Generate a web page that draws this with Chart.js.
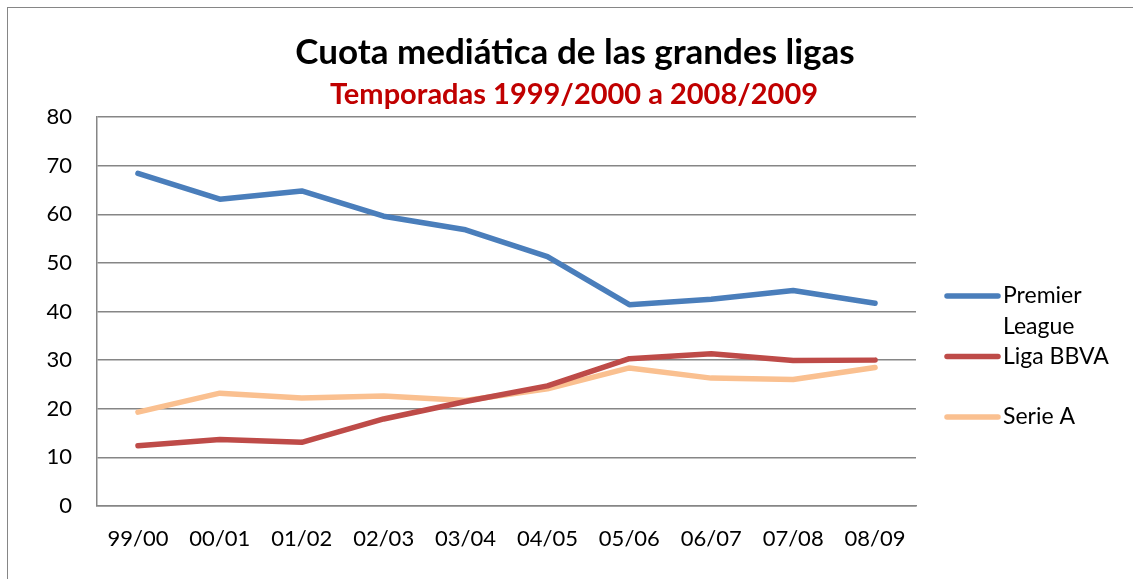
<!DOCTYPE html>
<html>
<head>
<meta charset="utf-8">
<script src="https://cdn.jsdelivr.net/npm/chart.js@4"></script>
<style>
    body { margin: 0; background: #fff; }
    #wrap { position: relative; width: 1133px; height: 579px; }
    #frame { position: absolute; left: 7px; top: 7px; width: 1140px; height: 600px; border: 1.5px solid #868686; box-sizing: border-box; }
    canvas { position: absolute; left: 0; top: 0; }
</style>
</head>
<body>
<div id="wrap">
    <div id="frame"></div>
    <canvas id="chart" width="1133" height="579"></canvas>
</div>
<script>
var seasons = ["99/00", "00/01", "01/02", "02/03", "03/04", "04/05", "05/06", "06/07", "07/08", "08/09"];
var premierLeague = [68.4, 63.1, 64.8, 59.6, 56.8, 51.3, 41.4, 42.5, 44.3, 41.7];
var ligaBBVA = [12.4, 13.7, 13.1, 17.9, 21.5, 24.7, 30.3, 31.3, 29.9, 30.0];
var serieA = [19.3, 23.2, 22.2, 22.6, 21.7, 24.1, 28.4, 26.3, 26.0, 28.5];
var seriesNames = ["Premier League", "Liga BBVA", "Serie A"];
var seriesColors = ["#4A7EBB", "#BE4B48", "#FAC090"];
var titleText = "Cuota mediática de las grandes ligas";
var subtitleText = "Temporadas 1999/2000 a 2008/2009";

var fontName = "Lato, 'Open Sans', sans-serif";

// titles and the right hand legend, drawn by hand
var decorations = {
    id: "decorations",
    afterDraw: function(chart) {
        var ctx = chart.ctx;
        ctx.save();
        ctx.textAlign = "center";
        ctx.textBaseline = "middle";
        ctx.fillStyle = "#000";
        ctx.font = "bold 35px " + fontName;
        ctx.fillText(titleText, 575, 53);
        ctx.fillStyle = "#C00000";
        ctx.font = "bold 29px " + fontName;
        ctx.fillText(subtitleText, 574, 95);

        ctx.textAlign = "left";
        ctx.font = "23px " + fontName;
        chart.data.datasets.forEach(function(ds, i) {
            var y = 296 + i * 60.5;
            ctx.strokeStyle = ds.borderColor;
            ctx.lineWidth = 5.5;
            ctx.lineCap = "round";
            ctx.beginPath();
            ctx.moveTo(947, y);
            ctx.lineTo(998, y);
            ctx.stroke();
            ctx.fillStyle = "#000";
            var words = ds.label.split(" ");
            var line = "";
            var lines = [];
            words.forEach(function(w) {
                var test = line ? line + " " + w : w;
                if (ctx.measureText(test).width > 125 && line) {
                    lines.push(line);
                    line = w;
                } else {
                    line = test;
                }
            });
            lines.push(line);
            lines.forEach(function(l, j) {
                ctx.fillText(l, 1003, y + j * 31);
            });
        });
        ctx.restore();
    }
};

new Chart(document.getElementById("chart"), {
    type: "line",
    data: {
        labels: seasons,
        datasets: [premierLeague, ligaBBVA, serieA].map(function(vals, i) {
            return {
                label: seriesNames[i],
                data: vals,
                borderColor: seriesColors[i],
                backgroundColor: seriesColors[i],
                borderWidth: 5.5,
                pointRadius: 0,
                tension: 0,
                borderCapStyle: "round",
                borderJoinStyle: "round"
            };
        })
    },
    options: {
        responsive: false,
        animation: false,
        layout: { padding: { top: 117, right: 217, left: 0, bottom: 0 } },
        plugins: {
            legend: { display: false },
            title: { display: false },
            tooltip: { enabled: false }
        },
        scales: {
            x: {
                offset: true,
                grid: { display: false, drawTicks: false },
                border: { color: "#868686", width: 1.5 },
                ticks: { color: "#000", font: { family: fontName, size: 22 }, padding: 20, maxRotation: 0, autoSkip: false },
                afterFit: function(scale) { scale.height = 73; }
            },
            y: {
                min: 0,
                max: 80,
                ticks: { stepSize: 10, color: "#000", font: { family: fontName, size: 22 }, padding: 25 },
                grid: { color: "#868686", lineWidth: 1.5, drawTicks: false },
                border: { color: "#868686", width: 1.5 },
                afterFit: function(scale) { scale.width = 97; }
            }
        }
    },
    plugins: [decorations]
});
</script>
</body>
</html>
